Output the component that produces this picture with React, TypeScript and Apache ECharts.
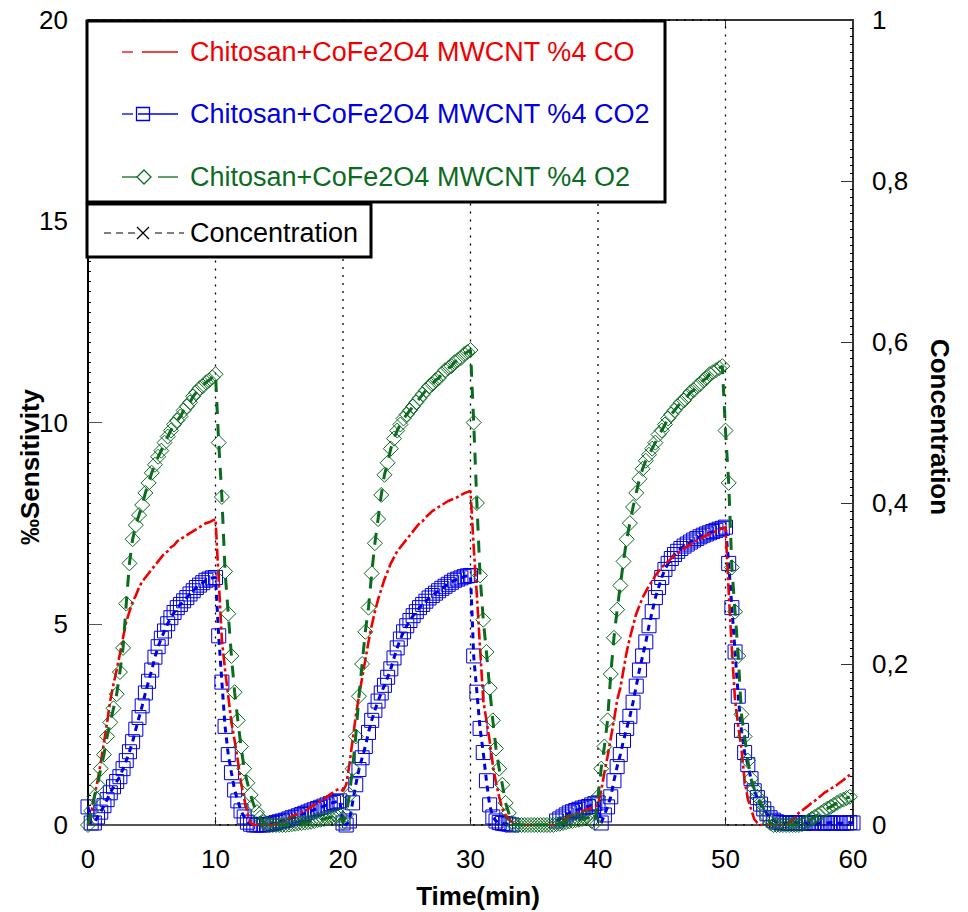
import React, { useEffect, useRef } from "react";
import * as echarts from "echarts";

// Samples are 0.25 min apart, starting at t = 0 (241 samples up to 60 min)
const TIME_STEP = 0.25;

// CO response (red), one row per 10 min
const coSensitivity = [
  0.0, 0.3, 0.7, 1.1, 1.55, 2.05, 2.55, 3.1, 3.5, 3.85, 4.25, 4.65, 5.05, 5.3, 5.55, 5.7, 5.9, 6.05, 6.15, 6.25, 6.35, 6.45, 6.55, 6.65, 6.75, 6.8, 6.9, 6.95, 7.05, 7.1, 7.15, 7.2, 7.25, 7.3, 7.35, 7.4, 7.45, 7.5, 7.52, 7.56, 7.6,
  6.1, 4.6, 3.85, 3.2, 2.55, 2.1, 1.6, 1.05, 0.65, 0.3, 0.05, 0.0, 0, 0, 0, 0, 0, 0, 0.02, 0.05, 0.08, 0.12, 0.17, 0.22, 0.25, 0.28, 0.32, 0.35, 0.39, 0.45, 0.5, 0.55, 0.6, 0.65, 0.7, 0.76, 0.82, 0.87, 0.9, 0.85,
  1.0, 1.5, 2.1, 2.7, 3.2, 3.65, 4.1, 4.55, 4.95, 5.3, 5.6, 5.85, 6.1, 6.3, 6.5, 6.65, 6.8, 6.9, 7.0, 7.1, 7.2, 7.3, 7.4, 7.5, 7.55, 7.65, 7.72, 7.8, 7.85, 7.9, 7.95, 8.0, 8.05, 8.08, 8.12, 8.15, 8.2, 8.24, 8.27, 8.3,
  6.9, 5.7, 4.4, 3.1, 2.6, 2.1, 1.5, 1.05, 0.7, 0.4, 0.25, 0.14, 0.08, 0.04, 0.01, 0, 0, 0, 0, 0, 0, 0, 0, 0, 0, 0, 0, 0.05, 0.12, 0.17, 0.22, 0.25, 0.28, 0.3, 0.34, 0.37, 0.4, 0.42, 0.45, 0.5,
  0.85, 1.3, 1.7, 2.15, 2.6, 3.1, 3.4, 3.85, 4.3, 4.65, 4.95, 5.25, 5.45, 5.65, 5.8, 5.95, 6.05, 6.2, 6.3, 6.4, 6.48, 6.55, 6.62, 6.7, 6.75, 6.82, 6.88, 6.92, 6.97, 7.02, 7.07, 7.1, 7.15, 7.2, 7.23, 7.27, 7.3, 7.34, 7.37, 7.4,
  5.8, 4.35, 3.1, 2.45, 1.9, 1.1, 0.65, 0.4, 0.15, 0.05, 0.0, 0, 0, 0, 0, 0, 0, 0, 0, 0.05, 0.12, 0.2, 0.3, 0.36, 0.42, 0.48, 0.55, 0.6, 0.67, 0.73, 0.8, 0.85, 0.9, 0.95, 1.0, 1.06, 1.12, 1.18, 1.25,
];

// CO2 response (blue); null = no sample drawn
const co2Sensitivity = [
  0.45, 0.05, 0.05, 0.2, 0.32, 0.48, 0.63, 0.8, 0.95, 1.08, 1.2, 1.4, 1.6, 1.82, 2.07, 2.38, 2.67, 2.96, 3.28, 3.57, 3.85, 4.17, 4.43, 4.64, 4.82, 5.0, 5.15, 5.28, 5.4, 5.48, 5.57, 5.65, 5.74, 5.82, 5.9, 5.96, 6.02, 6.08, 6.11, 6.14, 6.15,
  4.7, 3.55, 2.45, 1.75, 1.3, 0.87, 0.6, 0.35, 0.2, 0.07, 0.02, 0.0, 0.0, 0.0, 0.0, 0.01, 0.02, 0.04, 0.06, 0.08, 0.1, 0.12, 0.15, 0.18, 0.2, 0.23, 0.26, 0.29, 0.32, 0.35, 0.38, 0.41, 0.44, 0.47, 0.5, 0.53, 0.56, 0.58, 0.6, 0.05,
  0.0, 0.1, 0.55, 1.0, 1.38, 1.67, 1.95, 2.3, 2.6, 2.85, 3.08, 3.28, 3.47, 3.67, 3.88, 4.15, 4.4, 4.62, 4.8, 4.95, 5.08, 5.2, 5.3, 5.4, 5.48, 5.56, 5.64, 5.7, 5.76, 5.82, 5.88, 5.93, 5.98, 6.03, 6.08, 6.11, 6.14, 6.17, 6.19, 6.2,
  4.2, 3.3, 2.4, 1.8, 1.1, 0.5, 0.2, 0.1, 0.06, 0.04, 0.03, 0.02, 0.0, null, null, null, null, null, null, null, null, null, null, null, null, null, 0.1, 0.15, 0.2, 0.25, 0.3, 0.33, 0.36, 0.39, 0.42, 0.44, 0.46, 0.5, 0.53, 0.55,
  0.05, 0.25, 0.45, 0.7, 1.1, 1.45, 1.75, 2.1, 2.4, 2.7, 3.05, 3.45, 3.85, 4.2, 4.55, 4.95, 5.3, 5.65, 5.9, 6.15, 6.35, 6.5, 6.62, 6.72, 6.8, 6.87, 6.93, 6.98, 7.03, 7.08, 7.12, 7.16, 7.2, 7.23, 7.26, 7.29, 7.32, 7.35, 7.37, 7.4,
  6.5, 5.4, 4.3, 3.2, 2.35, 1.8, 1.5, 1.15, 0.85, 0.68, 0.52, 0.4, 0.28, 0.18, 0.12, 0.08, 0.06, 0.05, 0.05, 0.04, 0.05, 0.06, 0.05, 0.05, 0.04, 0.05, 0.05, 0.06, 0.05, 0.05, 0.04, 0.05, 0.06, 0.05, 0.05, 0.04, 0.05, 0.05, 0.06, 0.05,
];

// O2 response (green)
const o2Sensitivity = [
  0, 0.35, 0.7, 1.0, 1.4, 1.75, 2.2, 2.55, 2.9, 3.25, 3.8, 4.4, 5.5, 6.5, 7.1, 7.45, 7.7, 7.95, 8.25, 8.5, 8.75, 8.95, 9.15, 9.3, 9.5, 9.65, 9.8, 9.95, 10.05, 10.15, 10.3, 10.4, 10.5, 10.65, 10.75, 10.85, 10.9, 11.0, 11.05, 11.12, 11.2,
  9.5, 8.15, 6.3, 5.25, 4.2, 3.3, 2.6, 1.95, 1.4, 1.05, 0.75, 0.5, 0.32, 0.18, 0.07, 0.02, 0, 0, 0, 0, 0, 0, 0.01, 0.02, 0.03, 0.04, 0.05, 0.06, 0.07, 0.08, 0.1, 0.12, 0.13, 0.15, 0.17, 0.19, 0.2, 0.22, 0.24, 0.05,
  0.25, 0.75, 1.4, 2.2, 3.2, 4.0, 4.8, 5.4, 6.25, 7.0, 7.6, 8.2, 8.7, 9.0, 9.35, 9.6, 9.8, 9.95, 10.1, 10.2, 10.3, 10.4, 10.5, 10.6, 10.7, 10.8, 10.9, 10.95, 11.05, 11.1, 11.2, 11.3, 11.35, 11.4, 11.5, 11.55, 11.6, 11.7, 11.75, 11.8,
  10.0, 8.0, 6.2, 5.1, 4.3, 3.4, 2.6, 1.9, 1.4, 1.0, 0.55, 0.3, 0.05, 0, 0, 0, 0, 0, 0, 0, 0, 0, 0, 0, 0, 0, 0.02, 0.03, 0.05, 0.07, 0.09, 0.1, 0.12, 0.13, 0.15, 0.17, 0.18, 0.1, 0.05,
  0.7, 1.4, 1.95, 2.6, 3.75, 4.65, 5.35, 5.95, 6.55, 7.1, 7.5, 7.9, 8.25, 8.6, 8.85, 9.05, 9.2, 9.35, 9.5, 9.7, 9.8, 9.95, 10.1, 10.2, 10.3, 10.4, 10.5, 10.55, 10.65, 10.75, 10.8, 10.9, 10.95, 11.05, 11.1, 11.2, 11.25, 11.3, 11.35, 11.4,
  9.8, 8.5, 6.4, 5.3, 4.2, 2.75, 2.2, 1.6, 1.15, 0.9, 0.7, 0.55, 0.4, 0.2, 0.05, 0, 0, 0, 0, 0, 0, 0, 0, 0, 0.02, 0.05, 0.1, 0.15, 0.2, 0.25, 0.3, 0.36, 0.41, 0.45, 0.5, 0.55, 0.6, 0.63, 0.67, 0.7,
];

// Gas concentration (square pulses), right axis
const concentrationTime = [0, 10, 10, 20, 20, 30, 30, 40, 40, 50, 50, 60];
const concentrationValue = [1, 1, 0, 0, 1, 1, 0, 0, 1, 1, 0, 0];

const legendLabels = [
  "Chitosan+CoFe2O4 MWCNT %4 CO",
  "Chitosan+CoFe2O4 MWCNT %4 CO2",
  "Chitosan+CoFe2O4 MWCNT %4 O2",
  "Concentration",
];

const RED = "#f00000";
const BLUE = "#0000e0";
const GREEN = "#0b6b1f";
const FONT = "'Liberation Sans', Arial, sans-serif";

const toPairs = (values: (number | null)[]) =>
  values.map((v, i) => [i * TIME_STEP, v === null ? "-" : v]);

export default function App() {
  const ref = useRef<HTMLDivElement>(null);

  useEffect(() => {
    if (!ref.current) return;
    const chart = echarts.init(ref.current, null, { renderer: "svg" });

    const textStyle = (text: string, fill: string) => ({
      text,
      fill,
      fontSize: 27,
      fontFamily: FONT,
      align: "left",
      verticalAlign: "middle",
    });

    const graphics: any[] = [
      { type: "rect", z: 100, shape: { x: 87, y: 21, width: 578, height: 181 }, style: { fill: "#fff", stroke: "#000", lineWidth: 3 } },
      { type: "rect", z: 100, shape: { x: 87, y: 204, width: 284, height: 53 }, style: { fill: "#fff", stroke: "#000", lineWidth: 3 } },
      // CO
      { type: "line", z: 101, shape: { x1: 122, y1: 52, x2: 133, y2: 52 }, style: { stroke: RED, lineWidth: 1.3 } },
      { type: "line", z: 101, shape: { x1: 142, y1: 52, x2: 178, y2: 52 }, style: { stroke: RED, lineWidth: 1.3 } },
      { type: "text", z: 101, x: 190, y: 52, style: textStyle(legendLabels[0], RED) },
      // CO2
      { type: "line", z: 101, shape: { x1: 122, y1: 114, x2: 133, y2: 114 }, style: { stroke: BLUE, lineWidth: 1.3 } },
      { type: "line", z: 101, shape: { x1: 138, y1: 114, x2: 178, y2: 114 }, style: { stroke: BLUE, lineWidth: 1.3 } },
      { type: "rect", z: 102, shape: { x: 136.5, y: 107.5, width: 13, height: 13 }, style: { fill: "none", stroke: BLUE, lineWidth: 1.3 } },
      { type: "text", z: 101, x: 190, y: 114, style: textStyle(legendLabels[1], BLUE) },
      // O2
      { type: "line", z: 101, shape: { x1: 122, y1: 177, x2: 137, y2: 177 }, style: { stroke: GREEN, lineWidth: 1.3 } },
      { type: "polygon", z: 102, shape: { points: [[144, 170], [151, 177], [144, 184], [137, 177]] }, style: { fill: "none", stroke: GREEN, lineWidth: 1.3 } },
      { type: "line", z: 101, shape: { x1: 158, y1: 177, x2: 178, y2: 177 }, style: { stroke: GREEN, lineWidth: 1.3 } },
      { type: "text", z: 101, x: 190, y: 177, style: textStyle(legendLabels[2], GREEN) },
      // Concentration
      { type: "line", z: 101, shape: { x1: 104, y1: 233, x2: 136, y2: 233 }, style: { stroke: "#000", lineWidth: 1.2, lineDash: [7, 5] } },
      { type: "line", z: 101, shape: { x1: 137, y1: 227, x2: 149, y2: 239 }, style: { stroke: "#000", lineWidth: 1.3 } },
      { type: "line", z: 101, shape: { x1: 149, y1: 227, x2: 137, y2: 239 }, style: { stroke: "#000", lineWidth: 1.3 } },
      { type: "line", z: 101, shape: { x1: 155, y1: 233, x2: 184, y2: 233 }, style: { stroke: "#000", lineWidth: 1.2, lineDash: [7, 5] } },
      { type: "text", z: 101, x: 190, y: 233, style: textStyle(legendLabels[3], "#000") },
      // axis titles
      { type: "text", z: 101, x: 30, y: 467, rotation: Math.PI / 2, style: { text: "‰Sensitivity", fill: "#000", fontSize: 26, fontWeight: "bold", fontFamily: FONT, align: "center", verticalAlign: "middle" } },
      { type: "text", z: 101, x: 940, y: 427, rotation: -Math.PI / 2, style: { text: "Concentration", fill: "#000", fontSize: 26, fontWeight: "bold", fontFamily: FONT, align: "center", verticalAlign: "middle" } },
      { type: "text", z: 101, x: 478, y: 896, style: { text: "Time(min)", fill: "#000", fontSize: 26, fontWeight: "bold", fontFamily: FONT, align: "center", verticalAlign: "middle" } },
    ];

    const axisLabel = { fontSize: 26, color: "#000", fontFamily: FONT };

    chart.setOption({
      animation: false,
      backgroundColor: "#fff",
      grid: { left: 88, right: 115, top: 20, bottom: 87, containLabel: false },
      xAxis: [
        {
          type: "value", min: 0, max: 60, interval: 10, position: "bottom",
          axisLine: { show: true, onZero: false, lineStyle: { color: "#555", width: 2 } },
          axisTick: { show: true, inside: true, length: 8, lineStyle: { color: "#333" } },
          axisLabel: { ...axisLabel, margin: 21 },
          splitLine: { show: false },
        },
        {
          type: "value", min: 0, max: 60, interval: 10, position: "top",
          axisLine: { show: true, onZero: false, lineStyle: { color: "#333", width: 2 } },
          axisTick: { show: true, inside: true, length: 8, lineStyle: { color: "#333" } },
          axisLabel: { show: false },
          splitLine: { show: false },
        },
      ],
      yAxis: [
        {
          type: "value", min: 0, max: 20, interval: 5, position: "left",
          axisLine: { show: true, onZero: false, lineStyle: { color: "#000", width: 2 } },
          axisTick: { show: true, inside: true, length: 14, lineStyle: { color: "#555" } },
          minorTick: { show: true, splitNumber: 20, length: 3, lineStyle: { color: "#000" } },
          axisLabel: { ...axisLabel, margin: 20 },
          splitLine: { show: false },
        },
        {
          type: "value", min: 0, max: 1, interval: 0.2, position: "right",
          axisLine: { show: true, onZero: false, lineStyle: { color: "#333", width: 2 } },
          axisTick: { show: true, inside: true, length: 12, lineStyle: { color: "#333" } },
          minorTick: { show: true, splitNumber: 20, length: 3, lineStyle: { color: "#000" } },
          axisLabel: {
            ...axisLabel, margin: 19,
            formatter: (v: number) => (v === 0 ? "0" : v === 1 ? "1" : v.toFixed(1).replace(".", ",")),
          },
          splitLine: { show: false },
        },
      ],
      graphic: graphics,
      series: [
        {
          name: legendLabels[3], type: "line", yAxisIndex: 1, xAxisIndex: 0,
          data: concentrationTime.map((t, i) => [t, concentrationValue[i]]),
          symbol: "none", silent: true,
          lineStyle: { color: "#000", width: 1.3, type: [2, 6] },
          z: 1,
        },
        {
          name: legendLabels[1], type: "line", data: toPairs(co2Sensitivity),
          symbol: "rect", symbolSize: 14, showAllSymbol: true, connectNulls: false, silent: true,
          itemStyle: { color: "rgba(255,255,255,0)", borderColor: BLUE, borderWidth: 1 },
          lineStyle: { color: BLUE, width: 3, type: [6, 5] },
          z: 2,
        },
        {
          name: legendLabels[0], type: "line", data: toPairs(coSensitivity),
          symbol: "none", silent: true,
          lineStyle: { color: RED, width: 2.6, type: [12, 3, 3, 3] },
          z: 3,
        },
        {
          name: legendLabels[2], type: "line", data: toPairs(o2Sensitivity),
          symbol: "diamond", symbolSize: [15, 15], showAllSymbol: true, silent: true,
          itemStyle: { color: "rgba(255,255,255,0)", borderColor: GREEN, borderWidth: 1 },
          lineStyle: { color: GREEN, width: 3, type: [12, 10] },
          z: 4,
        },
      ],
    });

    return () => chart.dispose();
  }, []);

  return (
    <div
      ref={ref}
      style={{ position: "fixed", left: 0, top: 0, width: 968, height: 912, background: "#fff" }}
    />
  );
}
